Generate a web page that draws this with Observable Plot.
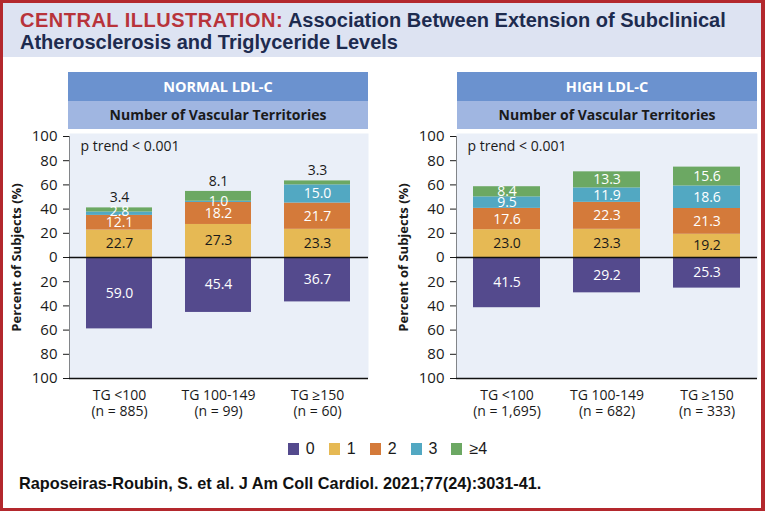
<!DOCTYPE html>
<html><head><meta charset="utf-8">
<script src="https://cdn.jsdelivr.net/npm/d3@7"></script>
<script src="https://cdn.jsdelivr.net/npm/@observablehq/plot@0.6"></script>
<style>
body{margin:0;background:#fff;}
#root{position:relative;width:765px;height:511px;overflow:hidden;background:#fff;font-family:"Open Sans",sans-serif;}
#border{position:absolute;left:0;top:0;width:765px;height:511px;box-sizing:border-box;border:3px solid #b3282d;border-right-width:4px;pointer-events:none;z-index:10}
#title{position:absolute;left:0;top:0;width:765px;height:57px;background:#dde3f2;font-family:"Liberation Sans Narrow","Liberation Sans",sans-serif;font-weight:700;font-size:20px;line-height:22px;color:#1d2b4f;padding:9px 0 0 20px;box-sizing:border-box;white-space:nowrap}
#title .red{color:#b8333a;letter-spacing:0.5px}
.hdr1{position:absolute;top:72px;width:300px;height:29px;background:#6b92cf;color:#fff;font-weight:700;font-size:14.5px;text-align:center;line-height:29px}
.hdr2{position:absolute;top:101px;width:300px;height:28px;background:#a0b6e1;color:#1a1a1a;font-weight:700;font-size:14px;text-align:center;line-height:28px}
.panel{position:absolute;top:125px}
.panel svg [aria-label="y-axis label"]{font-weight:700;font-size:13px}
.panel svg [aria-label="y-axis tick label"]{font-size:15px}
#legend{position:absolute;left:0;top:432px;width:765px;display:flex;justify-content:center;padding-left:24px;box-sizing:border-box}
#legend .lg-swatches{justify-content:center;font-family:"Liberation Sans Narrow","Liberation Sans",sans-serif;font-size:16px;color:#1a1a1a}
#legend .lg-swatch{margin-right:14px}
#legend .lg-swatch > svg{margin-right:7px}
#cite{position:absolute;left:19px;top:474px;font-family:"Liberation Sans Narrow","Liberation Sans",sans-serif;font-weight:700;font-size:16.3px;color:#111;white-space:nowrap}
</style></head>
<body>
<div id="root">
  <div id="title"><span class="red">CENTRAL ILLUSTRATION:</span> Association Between Extension of Subclinical<br>Atherosclerosis and Triglyceride Levels</div>
  <div class="hdr1" style="left:68px">NORMAL LDL-C</div>
  <div class="hdr2" style="left:68px">Number of Vascular Territories</div>
  <div class="hdr1" style="left:457px">HIGH LDL-C</div>
  <div class="hdr2" style="left:457px">Number of Vascular Territories</div>
  <div class="panel" id="pLeft" style="left:0px"></div>
  <div class="panel" id="pRight" style="left:385px"></div>
  <div id="legend"></div>
  <div id="cite">Raposeiras-Roubin, S. et al. J Am Coll Cardiol. 2021;77(24):3031-41.</div>
  <div id="border"></div>
</div>
<script>
// ---- data ----
const categories = ["TG <100", "TG 100-149", "TG ≥150"];
const territories = ["0", "1", "2", "3", "≥4"];
const territoryColors = ["#544a8d", "#e6b954", "#d47a3a", "#52a8c2", "#6ca863"];
const normalN = ["885", "99", "60"];
const highN = ["1,695", "682", "333"];
const normal_0 = [59.0, 45.4, 36.7];
const normal_1 = [22.7, 27.3, 23.3];
const normal_2 = [12.1, 18.2, 21.7];
const normal_3 = [2.8, 1.0, 15.0];
const normal_4 = [3.4, 8.1, 3.3];
const high_0 = [41.5, 29.2, 25.3];
const high_1 = [23.0, 23.3, 19.2];
const high_2 = [17.6, 22.3, 21.3];
const high_3 = [9.5, 11.9, 18.6];
const high_4 = [8.4, 13.3, 15.6];
const yTicks = [-100, -80, -60, -40, -20, 0, 20, 40, 60, 80, 100];

function makePanel(series, nLabels, ml, mr, lo) {
  const rows = [], white = [], dark = [], outside = [];
  categories.forEach((tg, i) => {
    let base = 0, prevLy = -Infinity, prevV = Infinity;
    territories.forEach((t, k) => {
      const v = series[k][i];
      const text = v.toFixed(1);
      if (k === 0) {
        rows.push({tg, t, y1: 0, y2: -v});
        white.push({tg, y: -v / 2, text});
        return;
      }
      const y1 = base, y2 = base + v; base = y2;
      rows.push({tg, t, y1, y2});
      if (k === 4 && (v < 5 || prevV < 5)) {
        outside.push({tg, y: y2, text});
      } else {
        const ly = Math.max((y1 + y2) / 2, prevLy + 9);
        prevLy = ly;
        (k === 1 ? dark : white).push({tg, y: ly, text});
      }
      prevV = v;
    });
  });
  return Plot.plot({
    width: 380, height: 300,
    marginLeft: ml, marginRight: mr, marginTop: 11, marginBottom: 47,
    style: {fontFamily: "Open Sans", fontSize: "14px", color: "#1a1a1a", background: "transparent", overflow: "visible"},
    x: {domain: categories, paddingInner: 0.33, paddingOuter: 0.165},
    y: {domain: [-100, 100], ticks: yTicks, tickFormat: d => Math.abs(d), tickSize: 6, tickPadding: 6,
        line: true, label: "Percent of Subjects (%)", labelAnchor: "center", labelOffset: lo, labelArrow: "none"},
    color: {domain: territories, range: territoryColors},
    marks: [
      Plot.frame({fill: "#eaeff8", stroke: "none", insetTop: -3}),
      Plot.barY(rows, {x: "tg", y1: "y1", y2: "y2", fill: "t"}),
      Plot.ruleY([0], {stroke: "#111", strokeWidth: 1.5}),
      Plot.ruleY([-100], {stroke: "#111", strokeWidth: 1.5}),
      Plot.axisX({tickSize: 0, tickPadding: 10, label: null, lineHeight: 1.15,
        tickFormat: d => `${d}\n(n = ${nLabels[categories.indexOf(d)]})`}),
      Plot.text(white, {x: "tg", y: "y", text: "text", fill: "white"}),
      Plot.text(dark, {x: "tg", y: "y", text: "text", fill: "#1a1a1a"}),
      Plot.text(outside, {x: "tg", y: "y", text: "text", fill: "#1a1a1a", dy: -10}),
      Plot.text(["p trend < 0.001"], {text: d => d, frameAnchor: "top-left", dx: 11, dy: 5, fill: "#1a1a1a"})
    ]
  });
}

document.getElementById("pLeft").append(
  makePanel([normal_0, normal_1, normal_2, normal_3, normal_4], normalN, 69, 12, 58));
document.getElementById("pRight").append(
  makePanel([high_0, high_1, high_2, high_3, high_4], highN, 71, 8, 58));

document.getElementById("legend").append(Plot.legend({
  color: {domain: territories, range: territoryColors},
  legend: "swatches", swatchWidth: 11, swatchHeight: 12, className: "lg"
}));
</script>
</body></html>
